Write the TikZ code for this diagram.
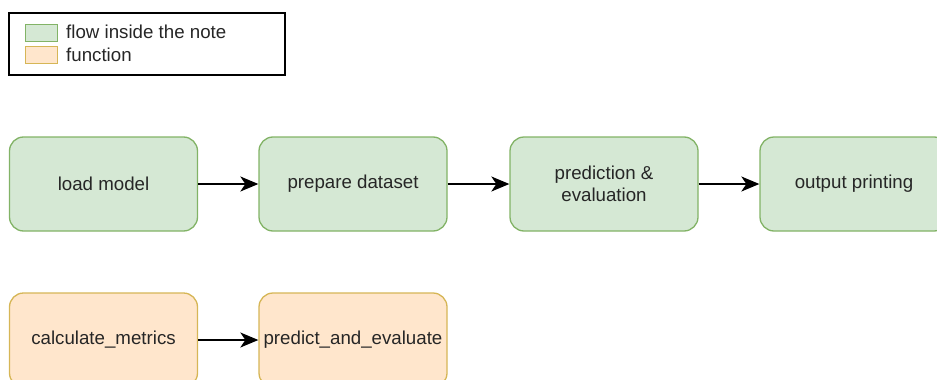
\documentclass[tikz,border=0pt]{standalone}
\usepackage{fontspec}
\setmainfont{Liberation Sans}
\usetikzlibrary{arrows.meta}
\definecolor{flowgreen}{HTML}{D5E8D4}
\definecolor{flowgreenline}{HTML}{82B366}
\definecolor{funcorange}{HTML}{FFE6CC}
\definecolor{funcorangeline}{HTML}{D6B656}
\tikzset{
  flowbox/.style={draw=flowgreenline, fill=flowgreen, line width=1.3pt, rounded corners=14pt,
    minimum width=188pt, minimum height=94pt, inner sep=2pt, align=center, text=black!85},
  funcbox/.style={draw=funcorangeline, fill=funcorange, line width=1.3pt, rounded corners=14pt,
    minimum width=188pt, minimum height=94pt, inner sep=2pt, align=center, text=black!85},
  flowarrow/.style={-{Stealth[length=18pt, width=15pt, inset=5pt]}, line width=1.8pt}
}

\begin{document}
\begin{tikzpicture}[x=1pt, y=-1pt, font=\fontsize{18.7}{22}\selectfont]
\useasboundingbox (0,0) rectangle (937,380);
% legend
\node[draw, line width=1.3pt, minimum width=276pt, minimum height=62pt, inner sep=0pt] (legend) at (147,44) {};
\node[draw=flowgreenline, fill=flowgreen, line width=1pt, minimum width=32pt, minimum height=17pt, inner sep=0pt] (keyflow) at (41,32.5) {};
\node[draw=funcorangeline, fill=funcorange, line width=1pt, minimum width=32pt, minimum height=17pt, inner sep=0pt] (keyfunc) at (41,55) {};
\node[anchor=west, inner sep=0pt, text=black!85] (keyflowtext) at (66,32) {flow inside the note};
\node[anchor=west, inner sep=0pt, text=black!85] (keyfunctext) at (66,55) {function};

% flow inside the note
\node[flowbox] (load) at (103.5,184) {load model};
\node[flowbox] (prepare) at (353,184) {prepare dataset};
\node[flowbox] (predict) at (604,184) {prediction \&\\evaluation};
\node[flowbox] (output) at (854,184) {output printing};
\draw[flowarrow] (load) -- (prepare);
\draw[flowarrow] (prepare) -- (predict);
\draw[flowarrow] (predict) -- (output);

% functions
\node[funcbox] (metrics) at (103.5,340) {calculate\_metrics};
\node[funcbox] (evaluate) at (353,340) {predict\_and\_evaluate};
\draw[flowarrow] (metrics) -- (evaluate);
\end{tikzpicture}
\end{document}
